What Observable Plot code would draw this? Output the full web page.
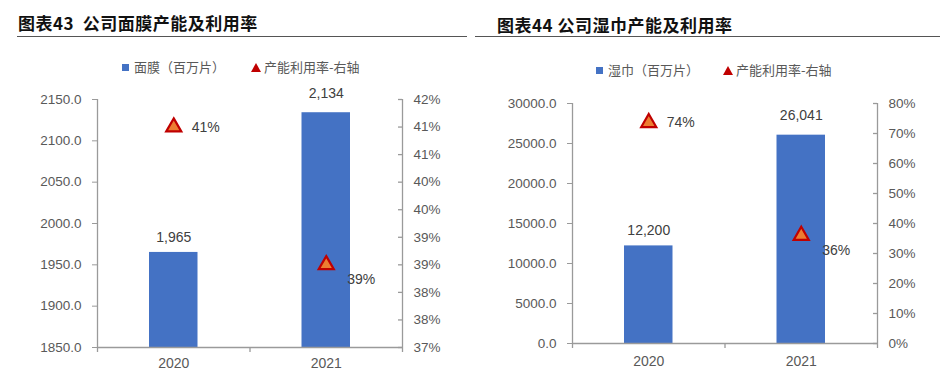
<!DOCTYPE html>
<html><head><meta charset="utf-8">
<script src="https://cdn.jsdelivr.net/npm/d3@7"></script>
<script src="https://cdn.jsdelivr.net/npm/@observablehq/plot@0.6"></script>
<style>
body{margin:0;background:#fff;width:945px;height:375px;position:relative;overflow:hidden;font-family:"Liberation Sans",Arial,sans-serif;}
.title{position:absolute;font-family:"Noto Sans CJK SC";font-weight:700;font-size:17px;letter-spacing:0.5px;color:#111;white-space:nowrap;line-height:18px;}
.rule{position:absolute;height:0;border-top:1.5px solid #555;}
.legend{position:absolute;font-family:"Noto Sans CJK SC";font-size:13px;color:#595959;white-space:nowrap;display:flex;align-items:center;height:16px;line-height:16px;}
.sq{display:inline-block;width:7px;height:7px;background:#4472C4;margin-right:5px;}
.panel{position:absolute;top:80px;height:295px;}
.panel svg{position:absolute;left:0;top:0;}
</style></head><body>
<div class="title" style="left:18px;top:14px;">图表43&nbsp; 公司面膜产能及利用率</div>
<div class="rule" style="left:17px;top:36px;width:450px;"></div>
<div class="title" style="left:497px;top:16px;">图表44 公司湿巾产能及利用率</div>
<div class="rule" style="left:475px;top:36px;width:465px;"></div>
<div class="legend" style="left:122px;top:59px;"><span class="sq"></span><span id="l1a"></span><svg width="10" height="9" style="margin-left:26px;margin-right:3px"><polygon points="5,0 10,9 0,9" fill="#C00000"/></svg><span id="l1b"></span></div>
<div class="legend" style="left:596px;top:62px;"><span class="sq"></span><span id="l2a"></span><svg width="10" height="9" style="margin-left:24px;margin-right:3px"><polygon points="5,0 10,9 0,9" fill="#C00000"/></svg><span id="l2b"></span></div>
<div class="panel" id="p1" style="left:0;width:472px;"></div>
<div class="panel" id="p2" style="left:472px;width:473px;"></div>
<script>
// ---- data ----
const categories = ["2020", "2021"];

const maskSeriesName = "面膜（百万片）";
const maskOutput = [1965, 2134];
const maskUtilName = "产能利用率-右轴";
const maskUtil = [0.41, 0.385];
const maskLeftTicks = [1850, 1900, 1950, 2000, 2050, 2100, 2150];
const maskRightTicks = [0.37, 0.375, 0.38, 0.385, 0.39, 0.395, 0.40, 0.405, 0.41, 0.415];
const maskRightTickLabels = ["37%", "38%", "38%", "39%", "39%", "40%", "40%", "41%", "41%", "42%"];

const wipeSeriesName = "湿巾（百万片）";
const wipeOutput = [12200, 26041];
const wipeUtilName = "产能利用率-右轴";
const wipeUtil = [0.736, 0.36];
const wipeLeftTicks = [0, 5000, 10000, 15000, 20000, 25000, 30000];
const wipeRightTicks = [0, 0.1, 0.2, 0.3, 0.4, 0.5, 0.6, 0.7, 0.8];
const wipeRightTickLabels = ["0%", "10%", "20%", "30%", "40%", "50%", "60%", "70%", "80%"];

document.getElementById("l1a").textContent = maskSeriesName;
document.getElementById("l1b").textContent = maskUtilName;
document.getElementById("l2a").textContent = wipeSeriesName;
document.getElementById("l2b").textContent = wipeUtilName;

const AXIS = "#9a9a9a", LABEL = "#595959", DLABEL = "#404040";
const BAR = "#4472C4", TRI_FILL = "#ED7D31", TRI_STROKE = "#C00000";
const FONT = "'Liberation Sans', Arial, sans-serif";

function panel(el, cfg) {
  const n = categories.length;
  const rows = categories.map((c, i) => ({c, i, v: cfg.output[i], p: cfg.util[i]}));
  const yMin = cfg.leftTicks[0], yMax = cfg.leftTicks[cfg.leftTicks.length - 1];
  const common = {
    width: cfg.width, height: 295,
    marginTop: cfg.mt, marginBottom: cfg.mb, marginLeft: cfg.ml, marginRight: cfg.mr,
    x: {type: "linear", domain: [0, n], axis: null},
    style: {background: "transparent", fontFamily: FONT, overflow: "visible"}
  };
  const fmtInt = d3.format(",");
  const bars = Plot.plot({
    ...common,
    y: {domain: [yMin, yMax], axis: null},
    marks: [
      Plot.rectY(rows, {x1: d => d.i, x2: d => d.i + 1, y1: yMin, y2: "v", insetLeft: 52, insetRight: 52, fill: BAR}),
      Plot.ruleX([0], {stroke: AXIS, strokeWidth: 1.3}),
      Plot.ruleY([yMin], {stroke: AXIS, strokeWidth: 1.3}),
      Plot.ruleX(d3.range(n + 1), {y1: yMin, y2: yMin, insetBottom: -5, stroke: AXIS, strokeWidth: 1.3}),
      Plot.axisY(cfg.leftTicks, {anchor: "left", label: null, tickSize: 5, tickPadding: 11, tickFormat: d3.format(".1f"), stroke: AXIS, fill: LABEL, fontSize: 13.5}),
      Plot.axisX(categories.map((c, i) => i + 0.5), {anchor: "bottom", label: null, tickSize: 0, tickPadding: cfg.xpad, tickFormat: d => categories[d - 0.5], fill: LABEL, fontSize: 14}),
      Plot.text(rows.slice(0, 1), {x: d => d.i + 0.5, y: "v", text: d => fmtInt(d.v), dy: -15, fill: DLABEL, fontSize: 14}),
      Plot.text(rows.slice(1), {x: d => d.i + 0.5, y: "v", text: d => fmtInt(d.v), dy: -19.5, fill: DLABEL, fontSize: 14})
    ]
  });
  const fmtPct = d3.format(".0%");
  const pct = Plot.plot({
    ...common,
    y: {domain: [cfg.rightTicks[0], cfg.rightTicks[cfg.rightTicks.length - 1]], axis: null},
    marks: [
      Plot.ruleX([n], {stroke: AXIS, strokeWidth: 1.3}),
      Plot.ruleY(cfg.rightTicks, {x1: n, x2: n, insetLeft: -4, stroke: AXIS, strokeWidth: 1.3}),
      Plot.axisY(cfg.rightTicks, {anchor: "right", label: null, tickSize: 0, tickPadding: 11, tickFormat: d => cfg.rightLabels[cfg.rightTicks.indexOf(d)], fill: LABEL, fontSize: 13.5}),
      Plot.dot(rows, {x: d => d.i + 0.5, y: "p", symbol: "triangle", r: 5.6, fill: TRI_FILL, stroke: TRI_STROKE, strokeWidth: 2.2}),
      Plot.text(rows.slice(0, 1), {x: d => d.i + 0.5, y: "p", text: d => fmtPct(d.p), textAnchor: "start", dx: 18, dy: 0, fill: DLABEL, fontSize: 14}),
      Plot.text(rows.slice(1), {x: d => d.i + 0.5, y: "p", text: d => fmtPct(d.p), textAnchor: "start", dx: 21, dy: 15, fill: DLABEL, fontSize: 14})
    ]
  });
  el.appendChild(bars);
  el.appendChild(pct);
}

panel(document.getElementById("p1"), {
  width: 472, mt: 19, mb: 28, ml: 97, mr: 70, xpad: 11,
  output: maskOutput, util: maskUtil,
  leftTicks: maskLeftTicks, rightTicks: maskRightTicks, rightLabels: maskRightTickLabels
});
panel(document.getElementById("p2"), {
  width: 473, mt: 23, mb: 32, ml: 100, mr: 68, xpad: 13,
  output: wipeOutput, util: wipeUtil,
  leftTicks: wipeLeftTicks, rightTicks: wipeRightTicks, rightLabels: wipeRightTickLabels
});
</script>
</body></html>
